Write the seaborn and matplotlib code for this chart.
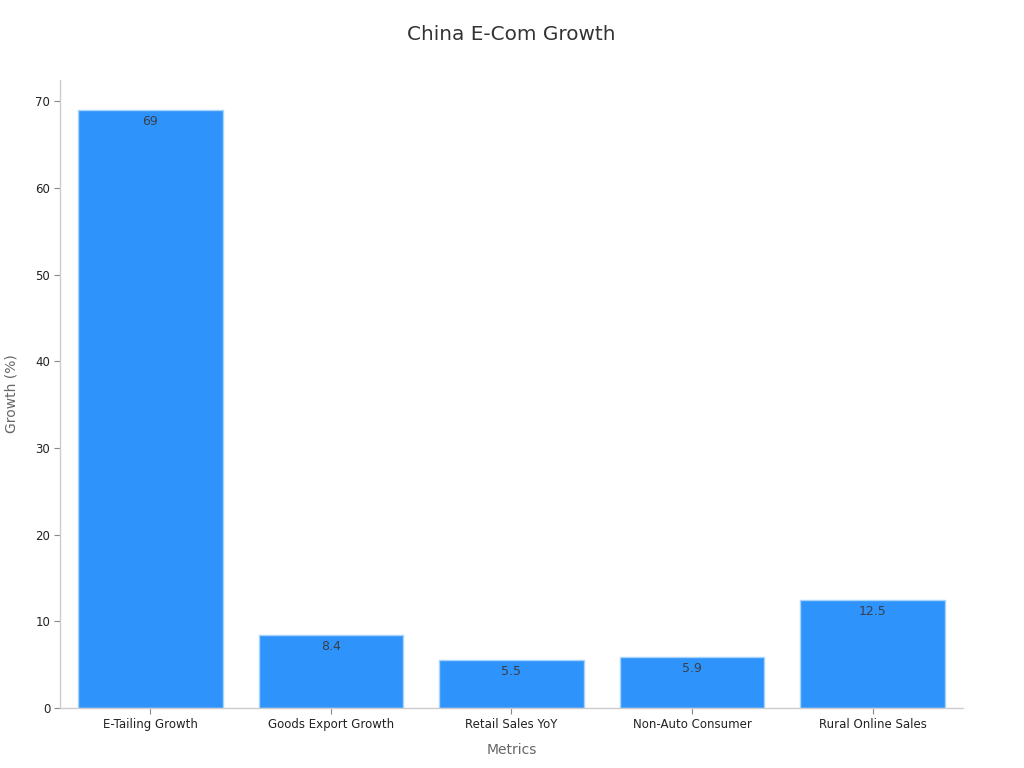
import matplotlib
matplotlib.use("Agg")
import matplotlib.pyplot as plt
import seaborn as sns
import pandas as pd

# data
metrics = ["E-Tailing Growth", "Goods Export Growth", "Retail Sales YoY",
           "Non-Auto Consumer", "Rural Online Sales"]
growth = [69, 8.4, 5.5, 5.9, 12.5]

sns.set_theme(style="white")
plt.rcParams["font.family"] = ["DejaVu Sans"]

df = pd.DataFrame({"Metrics": metrics, "Growth": growth})

fig = plt.figure(figsize=(10.24, 7.68), dpi=100)
ax = fig.add_axes([0.0586, 0.078, 0.8818, 0.818])

sns.barplot(data=df, x="Metrics", y="Growth", color="#2e93fa", saturation=1,
            width=0.8, edgecolor="#a8d3fb", linewidth=1, ax=ax)

labels = [f"{v:g}" for v in growth]
ax.bar_label(ax.containers[0], labels=labels, label_type="edge", padding=-13,
             fontsize=9, color="#3a3f4a")

ax.set_xlim(-0.5, 4.5)
ax.set_ylim(0, 72.45)
ax.set_title("China E-Com Growth", fontsize=14.4, color="#333333", pad=29)
ax.set_xlabel("Metrics", fontsize=10, color="#666666", labelpad=9)
ax.set_ylabel("Growth (%)", fontsize=10, color="#666666", labelpad=12)
ax.tick_params(axis="both", bottom=True, left=True, labelsize=8.5,
               labelcolor="#222222", color="#888888", length=4, width=0.8, pad=3)

sns.despine(ax=ax)
for side in ["left", "bottom"]:
    ax.spines[side].set_color("#cccccc")
    ax.spines[side].set_linewidth(1)

fig.savefig("out.png", dpi=100)
